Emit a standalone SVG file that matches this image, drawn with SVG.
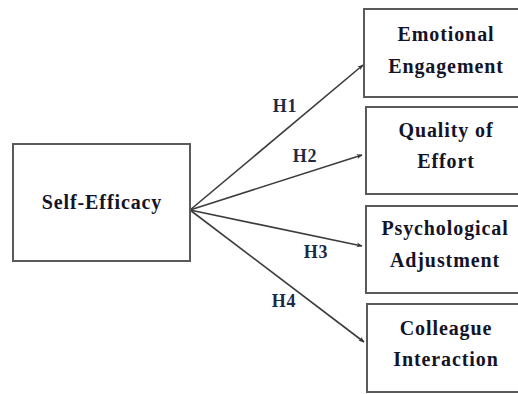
<svg xmlns="http://www.w3.org/2000/svg" width="518" height="394" viewBox="0 0 518 394">
<defs>
<style>
.box{fill:#fff;stroke:#5a5a5a;stroke-width:2}
.t{font-family:"Liberation Serif","Times New Roman",serif;font-weight:bold;font-size:20px;fill:#141428;text-anchor:middle;letter-spacing:0.9px}
.lbl{font-family:"Liberation Serif","Times New Roman",serif;font-weight:bold;font-size:18px;fill:#1e2a44;text-anchor:middle;letter-spacing:0.8px}
.c{stroke:#3c3c3c;stroke-width:1.6;fill:none;marker-end:url(#ah)}
</style>
<marker id="ah" viewBox="0 0 10 10" refX="9" refY="5" markerWidth="6" markerHeight="6" orient="auto" markerUnits="userSpaceOnUse">
<path d="M0,1 L10,5 L0,9 L3,5 Z" fill="#333"/>
</marker>
</defs>
<rect width="518" height="394" fill="#fff"/>
<g id="connectors">
<line class="c" x1="190" y1="210" x2="363" y2="65"/>
<line class="c" x1="190" y1="210" x2="362" y2="155"/>
<line class="c" x1="190" y1="210" x2="362" y2="246"/>
<line class="c" x1="190" y1="210" x2="364" y2="342"/>
<text class="lbl" x="285" y="112">H1</text>
<text class="lbl" x="305" y="162">H2</text>
<text class="lbl" x="316" y="258">H3</text>
<text class="lbl" x="284" y="307">H4</text>
</g>
<g id="self-efficacy">
<rect class="box" x="13" y="144" width="177" height="117"/>
<text class="t" x="102" y="209">Self-Efficacy</text>
</g>
<g id="emotional-engagement">
<rect class="box" x="364" y="9" width="170" height="88"/>
<text class="t" x="446" y="41">Emotional</text>
<text class="t" x="446" y="73">Engagement</text>
</g>
<g id="quality-of-effort">
<rect class="box" x="366" y="107" width="170" height="87"/>
<text class="t" x="446" y="137">Quality of</text>
<text class="t" x="446" y="168">Effort</text>
</g>
<g id="psychological-adjustment">
<rect class="box" x="366" y="206" width="170" height="87"/>
<text class="t" x="445" y="235">Psychological</text>
<text class="t" x="445" y="267">Adjustment</text>
</g>
<g id="colleague-interaction">
<rect class="box" x="367" y="304" width="170" height="88"/>
<text class="t" x="446" y="335">Colleague</text>
<text class="t" x="446" y="366">Interaction</text>
</g>
</svg>
